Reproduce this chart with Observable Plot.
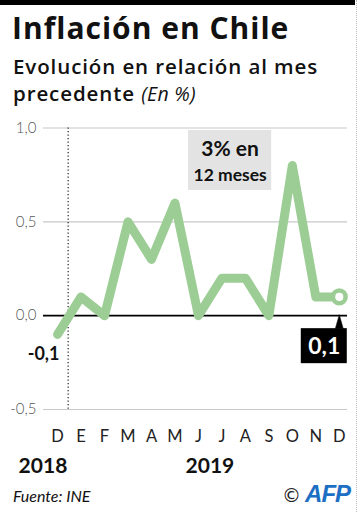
<!DOCTYPE html>
<html>
<head>
<meta charset="utf-8">
<script src="https://cdn.jsdelivr.net/npm/d3@7"></script>
<script src="https://cdn.jsdelivr.net/npm/@observablehq/plot@0.6"></script>
<style>
  html, body { margin: 0; padding: 0; background: #fff; }
  body { width: 360px; height: 512px; position: relative; overflow: hidden; font-family: Lato, "Noto Sans", sans-serif; color: #111; }
  #topbar { position: absolute; left: 0; top: 0; width: 355px; height: 5px; background: #000; }
  #edge { position: absolute; left: 356px; top: 0; width: 0; height: 512px; border-left: 1.5px dotted #bbb; }
  #title { position: absolute; left: 12px; top: 8px; font-family: "Open Sans", sans-serif; font-size: 30px; font-weight: 700; line-height: 40px; letter-spacing: 1px; }
  #subtitle { position: absolute; left: 13px; top: 53px; font-family: "Open Sans", sans-serif; font-size: 20.5px; font-weight: 600; line-height: 27px; letter-spacing: 0.9px; }
  #subtitle i { font-weight: 400; font-size: 19.5px; letter-spacing: 0.3px; }
  #chart { position: absolute; left: 0; top: 110px; }
  #source { position: absolute; left: 13px; top: 486px; font-size: 16px; font-style: italic; }
  #logo { position: absolute; left: 282px; top: 480px; white-space: nowrap; }
  #logo .c { font-family: "DejaVu Sans", sans-serif; font-size: 19px; color: #222; }
  #logo .afp { font-family: "Liberation Sans", sans-serif; font-weight: 700; font-style: italic; color: #1d6fc4; font-size: 24px; letter-spacing: -1px; }
</style>
</head>
<body>
<div id="topbar"></div>
<div id="edge"></div>
<div id="title">Inflación en Chile</div>
<div id="subtitle">Evolución en relación al mes<br>precedente <i>(En %)</i></div>
<div id="chart"></div>
<div id="source">Fuente: INE</div>
<div id="logo"><span class="c">©</span> <span class="afp">AFP</span></div>
<script>
const months = ["D", "E", "F", "M", "A", "M", "J", "J", "A", "S", "O", "N", "D"];
const values = [-0.1, 0.1, 0.0, 0.5, 0.3, 0.6, 0.0, 0.2, 0.2, 0.0, 0.8, 0.1, 0.1];
const yTicks = [-0.5, 0, 0.5, 1.0];
const years = ["2018", "2019"];
const yearX = [-1.66, 5.45];
const yearBoundary = [0.45];
const note = [{x1: 5.58, x2: 9.12, y1: 0.667, y2: 0.987}];
const noteLines = [{text: "3% en", x: 7.35, y: 0.885, size: 21}, {text: "12 meses", x: 7.35, y: 0.75, size: 17.5}];

const green = "#9ccd95";
const fmt = d => d.toFixed(1).replace(".", ",");
const idx = values.map((_, i) => i);
const last = idx.length - 1;

const chart = Plot.plot({
  width: 360,
  height: 370,
  marginLeft: 43,
  marginRight: 13,
  marginTop: 17.5,
  marginBottom: 71,
  style: {fontFamily: "Lato, 'Noto Sans', sans-serif", background: "transparent", overflow: "visible"},
  x: {type: "linear", domain: [-0.6, 12.35]},
  y: {domain: [-0.5, 1.0]},
  marks: [
    Plot.ruleY(yTicks.filter(d => d !== 0), {stroke: "#c8c8c8", strokeWidth: 1.2}),
    Plot.ruleX(yearBoundary, {stroke: "#222", strokeWidth: 1.2, strokeDasharray: "1.3,2.2"}),
    Plot.ruleY([0], {stroke: "#000", strokeWidth: 1.6}),
    Plot.axisY({ticks: yTicks, tickFormat: fmt, tickSize: 0, tickPadding: 7, fontSize: 15, fill: "#555", fontWeight: 300}),
    Plot.axisX({ticks: idx, tickFormat: i => months[i], tickSize: 0, tickPadding: 21, fontSize: 16.5, fill: "#222"}),
    Plot.text(years, {x: (_, i) => yearX[i], frameAnchor: "bottom", dy: 57, text: d => d, textAnchor: "start", lineAnchor: "middle", fontSize: 21, fontWeight: 700, fill: "#111"}),
    Plot.rect(note, {x1: "x1", x2: "x2", y1: "y1", y2: "y2", fill: "#e3e3e3"}),
    Plot.text(noteLines, {x: "x", y: "y", text: "text", fontSize: d => d.size, fontWeight: 700, fill: "#111", lineAnchor: "middle"}),
    Plot.line(values, {x: (_, i) => i, y: d => d, stroke: green, strokeWidth: 9, strokeLinejoin: "round", strokeLinecap: "round"}),
    Plot.dot([values[last]], {x: () => last, y: d => d, r: 6.3, fill: "#fff", stroke: green, strokeWidth: 4.5}),
    Plot.text([values[0]], {x: () => 0, y: d => d, text: fmt, dx: -14, dy: 20, fontSize: 18, fontWeight: 700, fill: "#111", lineAnchor: "middle"}),
    Plot.vector([values[last]], {x: () => last, y: () => 0, shape: "spike", length: 14, r: 4, anchor: "start", dy: 13, fill: "#000", stroke: "#000", strokeWidth: 0.5}),
    Plot.rect([values[last]], {x1: () => last, x2: () => last, y1: () => 0, y2: () => 0, insetLeft: -38, insetRight: -8, insetTop: -17.5, insetBottom: -17.5, dy: 30.5, fill: "#000"}),
    Plot.text([values[last]], {x: () => last, y: () => 0, text: fmt, dx: -15, dy: 31, fontSize: 23, fontWeight: 700, fill: "#fff", lineAnchor: "middle"})
  ]
});
document.getElementById("chart").appendChild(chart);
</script>
</body>
</html>
